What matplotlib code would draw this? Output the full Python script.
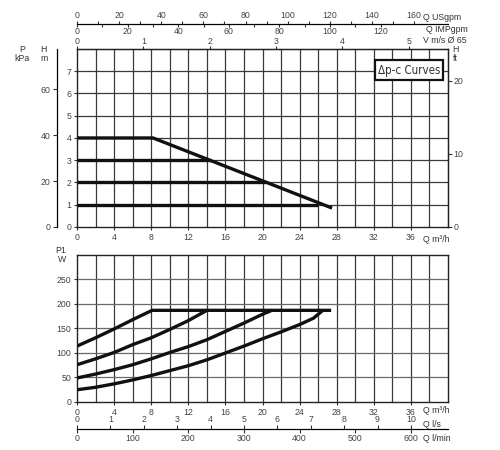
import matplotlib
matplotlib.use('Agg')  # pas d'affichage

import matplotlib.pyplot as plt

# Courbes Δp-c (hauteur H en m en fonction de Q en m³/h)
q_max = [0, 8.2, 27.5]
h_max = [4, 4, 0.85]
h_levels = [3, 2, 1]
q_level_end = [14.5, 20.4, 26.0]

# Puissance absorbée P1 (W)
q_p1_a = [0, 2, 4, 6, 8, 10, 12, 14, 16, 18, 20, 22, 24, 25.5, 26.5]
p1_a = [25, 30, 37, 45, 54, 64, 74, 86, 100, 114, 129, 143, 158, 171, 187]
q_p1_b = [0, 2, 4, 6, 8, 10, 12, 14, 16, 18, 20, 21]
p1_b = [49, 57, 66, 76, 88, 101, 113, 127, 144, 161, 179, 187]
q_p1_c = [0, 2, 4, 6, 8, 10, 12, 14]
p1_c = [76, 88, 101, 117, 131, 148, 166, 187]
q_p1_d = [0, 2, 4, 6, 8.1, 27.4]
p1_d = [114, 131, 149, 168, 187, 187]

q_ticks = list(range(0, 40, 4))
h_ticks = list(range(0, 8))
kpa_ticks = [0, 20, 40, 60]
ft_ticks = [0, 10, 20]
usgpm_ticks = list(range(0, 161, 20))
impgpm_ticks = list(range(0, 121, 20))
v_ticks = [0, 1, 2, 3, 4, 5]
p1_ticks = [0, 50, 100, 150, 200, 250]
ls_ticks = list(range(0, 11))
lmin_ticks = list(range(0, 601, 100))

plt.rcParams['font.family'] = ['Liberation Sans', 'DejaVu Sans']
plt.rcParams['font.size'] = 6.3
plt.rcParams['text.color'] = '#333333'
plt.rcParams['xtick.color'] = '#333333'
plt.rcParams['ytick.color'] = '#333333'
plt.rcParams['xtick.labelcolor'] = '#444444'
plt.rcParams['ytick.labelcolor'] = '#444444'

CURVE = dict(color='#111111', linewidth=2.4, solid_capstyle='butt', solid_joinstyle='round')
GRID = '#3a3a3a'

fig = plt.figure(figsize=(5, 4.5), dpi=100)
fig.patch.set_facecolor('white')

ax_h = fig.add_axes([0.154, 0.4956, 0.742, 0.3956])
ax_p = fig.add_axes([0.154, 0.1067, 0.742, 0.3267])


def style_grid(ax, ymax, ystep, hcolor):
    ax.set_xlim(0, 40)
    ax.set_ylim(0, ymax)
    for q in range(2, 40, 2):
        ax.axvline(q, color=GRID, linewidth=0.9, zorder=1)
    for y in range(ystep, ymax, ystep):
        ax.axhline(y, color=hcolor, linewidth=0.9, zorder=1)
    for s in ax.spines.values():
        s.set_color('#222222')
        s.set_linewidth(1.0)
    ax.set_xticks(q_ticks)
    ax.tick_params(axis='both', direction='out', length=2.5, width=0.8, pad=1.5)


# --- Graphique H(Q) ---
style_grid(ax_h, 8, 1, GRID)
ax_h.set_yticks(h_ticks)
for h, qe in zip(h_levels, q_level_end):
    ax_h.plot([0, qe], [h, h], zorder=3, **CURVE)
ax_h.plot(q_max, h_max, zorder=3, **CURVE)

ax_h.text(-0.09, 1.02, "H\nm", transform=ax_h.transAxes, ha='center', va='top', linespacing=1.0)
ax_h.text(-0.148, 1.02, "P\nkPa", transform=ax_h.transAxes, ha='center', va='top', linespacing=1.0)
ax_h.text(1.02, 1.02, "H\nft", transform=ax_h.transAxes, ha='center', va='top', linespacing=1.0)
ax_h.text(37.3, -0.045, "Q m³/h", transform=ax_h.get_xaxis_transform(), ha='left', va='top')

# échelle pression kPa
sec_p = ax_h.secondary_yaxis(-0.054, functions=(lambda h: h * 9.7, lambda p: p / 9.7))
sec_p.set_yticks(kpa_ticks)
sec_p.tick_params(direction='out', length=3, width=0.8, pad=1.5)
sec_p.spines['left'].set_linewidth(0.9)

# échelle hauteur en ft
sec_ft = ax_h.secondary_yaxis('right', functions=(lambda h: h * 3.048, lambda f: f / 3.048))
sec_ft.set_yticks(ft_ticks)
sec_ft.tick_params(direction='out', length=3, width=0.8, pad=1)

# vitesse V m/s
sec_v = ax_h.secondary_xaxis('top', functions=(lambda q: q / 7.15, lambda v: v * 7.15))
sec_v.set_xticks(v_ticks)
sec_v.tick_params(direction='out', length=2, width=0.8, pad=0)
ax_h.text(37.3, 1.02, "V m/s Ø 65", transform=ax_h.get_xaxis_transform(), ha='left', va='bottom')

# débit USgpm / IMPgpm
sec_us = ax_h.secondary_xaxis(1.14, functions=(lambda q: q * 4.403, lambda g: g / 4.403))
sec_us.set_xticks(usgpm_ticks)
sec_us.set_xticks(list(range(10, 161, 20)), minor=True)
sec_us.tick_params(which='both', direction='out', length=2.5, width=0.8, pad=0.5)
ax_h.text(37.3, 1.15, "Q USgpm", transform=ax_h.get_xaxis_transform(), ha='left', va='bottom')

sec_imp = ax_h.secondary_xaxis(1.14, functions=(lambda q: q * 3.666, lambda g: g / 3.666))
sec_imp.set_alignment('bottom')
sec_imp.set_xticks(impgpm_ticks)
sec_imp.set_xticks(list(range(10, 121, 20)), minor=True)
sec_imp.tick_params(which='both', direction='out', length=2, width=0.8, pad=0)
ax_h.text(37.6, 1.132, "Q IMPgpm", transform=ax_h.get_xaxis_transform(), ha='left', va='top')

ax_h.text(35.8, 7.05, "Δp-c Curves", ha='center', va='center', fontsize=8.3,
          family='DejaVu Sans', fontstretch='condensed', color='#333333',
          bbox=dict(boxstyle='square,pad=0.28', facecolor='white', edgecolor='#111111', linewidth=1.6),
          zorder=5)

# --- Graphique P1(Q) ---
style_grid(ax_p, 300, 50, '#6a6a6a')
ax_p.set_yticks(p1_ticks)
ax_p.plot(q_p1_a, p1_a, zorder=3, **CURVE)
ax_p.plot(q_p1_b, p1_b, zorder=3, **CURVE)
ax_p.plot(q_p1_c, p1_c, zorder=3, **CURVE)
ax_p.plot(q_p1_d, p1_d, zorder=3, **CURVE)

ax_p.text(-0.03, 1.0, "P1\nW", transform=ax_p.transAxes, ha='right', va='center', linespacing=0.9)
ax_p.text(37.3, -0.03, "Q m³/h", transform=ax_p.get_xaxis_transform(), ha='left', va='top')

sec_ls = ax_p.secondary_xaxis(-0.184, functions=(lambda q: q / 3.6, lambda l: l * 3.6))
sec_ls.set_alignment('top')
sec_ls.set_xticks(ls_ticks)
sec_ls.tick_params(direction='out', length=3, width=0.8, pad=0.5)
ax_p.text(37.3, -0.12, "Q l/s", transform=ax_p.get_xaxis_transform(), ha='left', va='top')

sec_lmin = ax_p.secondary_xaxis(-0.184, functions=(lambda q: q / 0.06, lambda l: l * 0.06))
sec_lmin.set_xticks(lmin_ticks)
sec_lmin.tick_params(direction='out', length=3, width=0.8, pad=0.5)
ax_p.text(37.3, -0.215, "Q l/min", transform=ax_p.get_xaxis_transform(), ha='left', va='top')

fig.savefig('out.png', dpi=100, facecolor='white')
plt.close(fig)
